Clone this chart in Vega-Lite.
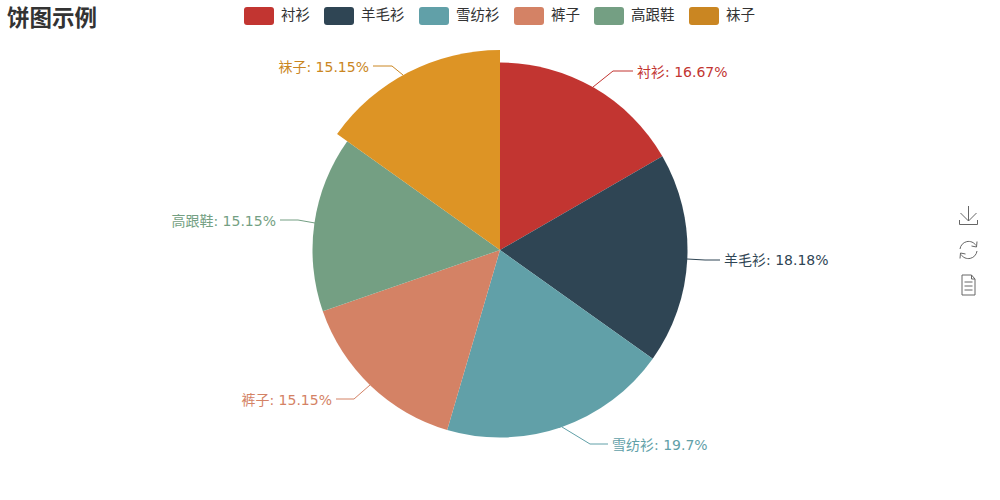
{
"$schema":"https://vega.github.io/schema/vega-lite/v6.json",
"width":1000,"height":500,"padding":0,"autosize":{"type":"none"},
"background":"white",
"title":{"text":"饼图示例","anchor":"start","orient":"top","offset":-30,"dx":7,"font":"Noto Sans CJK SC","fontSize":22.5,"fontWeight":"bold","color":"#333333"},
"config":{"view":{"stroke":null},"font":"Noto Sans CJK SC"},
"datasets":{
"slices":[
{"name":"衬衫","value":11,"order":1},
{"name":"羊毛衫","value":12,"order":2},
{"name":"雪纺衫","value":13,"order":3},
{"name":"裤子","value":10,"order":4},
{"name":"高跟鞋","value":10,"order":5},
{"name":"袜子","value":10,"order":6}],
"leaders":[
{"name":"衬衫","seq":1,"u":93,"v":163},{"name":"衬衫","seq":2,"u":113,"v":179},{"name":"衬衫","seq":3,"u":133,"v":179},
{"name":"羊毛衫","seq":1,"u":187,"v":-9},{"name":"羊毛衫","seq":2,"u":205,"v":-10},{"name":"羊毛衫","seq":3,"u":220,"v":-10},
{"name":"雪纺衫","seq":1,"u":62,"v":-177},{"name":"雪纺衫","seq":2,"u":90,"v":-194},{"name":"雪纺衫","seq":3,"u":108,"v":-194},
{"name":"裤子","seq":1,"u":-130,"v":-135},{"name":"裤子","seq":2,"u":-146,"v":-149},{"name":"裤子","seq":3,"u":-164,"v":-149},
{"name":"高跟鞋","seq":1,"u":-185,"v":27},{"name":"高跟鞋","seq":2,"u":-202,"v":30},{"name":"高跟鞋","seq":3,"u":-220,"v":30},
{"name":"袜子","seq":1,"u":-97,"v":175},{"name":"袜子","seq":2,"u":-108,"v":184},{"name":"袜子","seq":3,"u":-127,"v":184}],
"labels":[
{"name":"衬衫","text":"衬衫: 16.67%","u":133,"v":177,"side":"right"},
{"name":"羊毛衫","text":"羊毛衫: 18.18%","u":220,"v":-11,"side":"right"},
{"name":"雪纺衫","text":"雪纺衫: 19.7%","u":108,"v":-196,"side":"right"},
{"name":"裤子","text":"裤子: 15.15%","u":-164,"v":-151,"side":"left"},
{"name":"高跟鞋","text":"高跟鞋: 15.15%","u":-220,"v":28,"side":"left"},
{"name":"袜子","text":"袜子: 15.15%","u":-127,"v":182,"side":"left"}],
"icons":[
{"icon":"download","u":468.5,"v":34},
{"icon":"refresh","u":468.5,"v":0},
{"icon":"doc","u":468.5,"v":-35}]
},
"layer":[
{"data":{"name":"slices"},
"transform":[{"stack":"value","groupby":[],"sort":[{"field":"order","order":"ascending"}],"as":["start","end"]},{"filter":"datum.name !== '袜子'"}],
"mark":{"type":"arc","outerRadius":187.5},
"encoding":{
"theta":{"field":"start","type":"quantitative","scale":{"domain":[0,66]},"stack":null},
"theta2":{"field":"end"},
"color":{"field":"name","type":"nominal","scale":{"domain":["衬衫","羊毛衫","雪纺衫","裤子","高跟鞋","袜子"],"range":["#c23531","#2f4554","#61a0a8","#d48265","#749f83","#ca8622"]},
"legend":{"title":null,"orient":"none","legendX":244,"legendY":1,"direction":"horizontal","columns":6,"columnPadding":14,"labelFontSize":14.5,"labelFont":"Noto Sans CJK SC","labelColor":"#333333","labelOffset":7,"symbolSize":900,"symbolStrokeWidth":0,"symbolOpacity":1,"symbolType":"M-0.8 -0.6 L0.8 -0.6 Q1 -0.6 1 -0.4 L1 0.4 Q1 0.6 0.8 0.6 L-0.8 0.6 Q-1 0.6 -1 0.4 L-1 -0.4 Q-1 -0.6 -0.8 -0.6 Z"}}}},
{"data":{"name":"slices"},
"transform":[{"stack":"value","groupby":[],"sort":[{"field":"order","order":"ascending"}],"as":["start","end"]},{"filter":"datum.name === '袜子'"}],
"mark":{"type":"arc","outerRadius":200,"fill":"#dd9425"},
"encoding":{
"theta":{"field":"start","type":"quantitative","scale":{"domain":[0,66]},"stack":null},
"theta2":{"field":"end"}}},
{"data":{"name":"leaders"},
"mark":{"type":"line","strokeWidth":1},
"encoding":{
"x":{"field":"u","type":"quantitative","scale":{"domain":[-500,500]},"axis":null},
"y":{"field":"v","type":"quantitative","scale":{"domain":[-250,250]},"axis":null},
"order":{"field":"seq"},
"color":{"field":"name","type":"nominal","legend":null}}},
{"data":{"name":"labels"},
"transform":[{"filter":"datum.side === 'right'"}],
"mark":{"type":"text","align":"left","baseline":"middle","dx":4,"fontSize":14,"font":"DejaVu Sans, Noto Sans CJK SC"},
"encoding":{
"x":{"field":"u","type":"quantitative","scale":{"domain":[-500,500]},"axis":null},
"y":{"field":"v","type":"quantitative","scale":{"domain":[-250,250]},"axis":null},
"text":{"field":"text"},
"color":{"field":"name","type":"nominal","legend":null}}},
{"data":{"name":"labels"},
"transform":[{"filter":"datum.side === 'left'"}],
"mark":{"type":"text","align":"right","baseline":"middle","dx":-4,"fontSize":14,"font":"DejaVu Sans, Noto Sans CJK SC"},
"encoding":{
"x":{"field":"u","type":"quantitative","scale":{"domain":[-500,500]},"axis":null},
"y":{"field":"v","type":"quantitative","scale":{"domain":[-250,250]},"axis":null},
"text":{"field":"text"},
"color":{"field":"name","type":"nominal","legend":null}}},
{"data":{"name":"icons"},
"transform":[{"filter":"datum.icon === 'download'"}],
"mark":{"type":"point","filled":false,"stroke":"#666666","strokeWidth":1,"opacity":1,"size":400,"shape":"M0 -1 L0 0.5 M-0.8 -0.3 L0 0.5 L0.8 -0.3 M-0.9 0.4 L-0.9 0.85 L0.9 0.85 L0.9 0.4"},
"encoding":{
"x":{"field":"u","type":"quantitative","scale":{"domain":[-500,500]},"axis":null},
"y":{"field":"v","type":"quantitative","scale":{"domain":[-250,250]},"axis":null}}},
{"data":{"name":"icons"},
"transform":[{"filter":"datum.icon === 'refresh'"}],
"mark":{"type":"point","filled":false,"stroke":"#666666","strokeWidth":1,"opacity":1,"size":400,"shape":"M-0.85 -0.1 A0.87 0.87 0 0 1 0.75 -0.45 M0.85 0.1 A0.87 0.87 0 0 1 -0.75 0.45 M0.85 -0.85 L0.8 -0.3 L0.3 -0.4 M-0.85 0.85 L-0.8 0.3 L-0.3 0.4"},
"encoding":{
"x":{"field":"u","type":"quantitative","scale":{"domain":[-500,500]},"axis":null},
"y":{"field":"v","type":"quantitative","scale":{"domain":[-250,250]},"axis":null}}},
{"data":{"name":"icons"},
"transform":[{"filter":"datum.icon === 'doc'"}],
"mark":{"type":"point","filled":false,"stroke":"#666666","strokeWidth":1,"opacity":1,"size":400,"shape":"M-0.65 -1 L0.3 -1 L0.65 -0.6 L0.65 1 L-0.65 1 Z M0.3 -1 L0.3 -0.6 L0.65 -0.6 M-0.4 -0.3 L0.4 -0.3 M-0.4 0.1 L0.4 0.1 M-0.4 0.5 L0.4 0.5"},
"encoding":{
"x":{"field":"u","type":"quantitative","scale":{"domain":[-500,500]},"axis":null},
"y":{"field":"v","type":"quantitative","scale":{"domain":[-250,250]},"axis":null}}}
]
}
